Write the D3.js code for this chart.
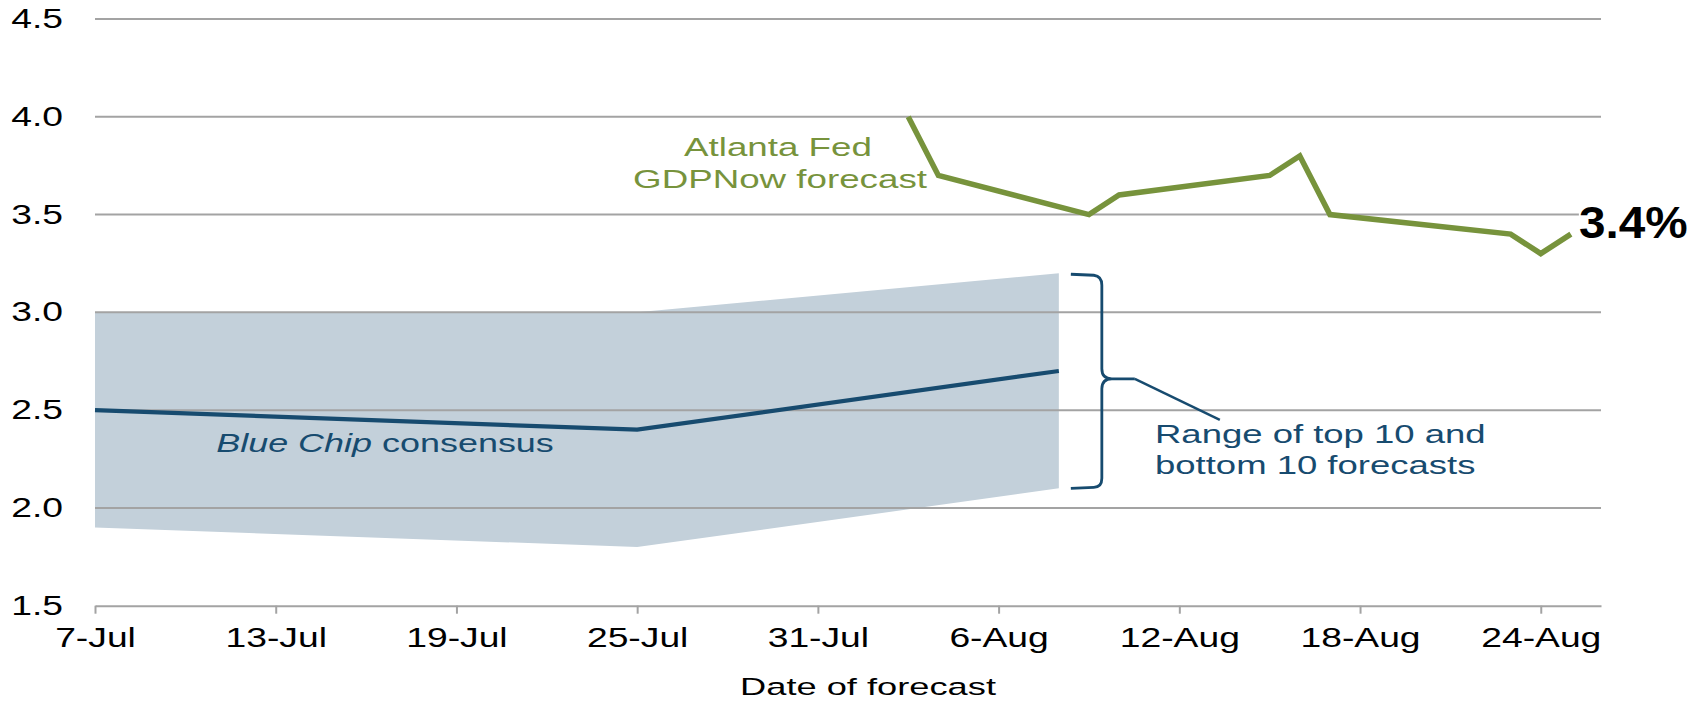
<!DOCTYPE html>
<meta charset="utf-8">
<script src="https://d3js.org/d3.v7.min.js"></script>
<style>
  body { margin: 0; background: #fff; }
  text { font-family: "Liberation Sans", Arial, sans-serif; }
</style>
<div id="chart"></div>
<script>
  // values
  const yTicks = [1.5, 2.0, 2.5, 3.0, 3.5, 4.0, 4.5]
  const xTickDates = ["2017-07-07", "2017-07-13", "2017-07-19", "2017-07-25", "2017-07-31",
                      "2017-08-06", "2017-08-12", "2017-08-18", "2017-08-24"]
  const consensusDates = ["2017-07-07", "2017-07-25", "2017-08-08"]
  const consensus = [2.5, 2.4, 2.7]
  const rangeHigh = [3.0, 3.0, 3.2]
  const rangeLow = [1.9, 1.8, 2.1]
  const gdpNowDates = ["2017-08-03", "2017-08-04", "2017-08-09", "2017-08-10", "2017-08-15",
                       "2017-08-16", "2017-08-17", "2017-08-23", "2017-08-24", "2017-08-25"]
  const gdpNow = [4.0, 3.7, 3.5, 3.6, 3.7, 3.8, 3.5, 3.4, 3.3, 3.4]
  const latestLabel = "3.4%"

  const parse = d3.timeParse("%Y-%m-%d")
  const fmt = d3.timeFormat("%-d-%b")

  const width = 1706, height = 701
  const blue = "#174b6f", green = "#77933c", band = "#c3d0da", grid = "#a3a3a3"

  const svg = d3.select("#chart").append("svg")
    .attr("width", width).attr("height", height)

  const x = d3.scaleTime()
    .domain([parse("2017-07-07"), parse("2017-08-26")])
    .range([95, 1601])
  const y = d3.scaleLinear().domain([1.5, 4.5]).range([605.7, 19])

  const rangeData = consensusDates.map((d, i) => ({date: parse(d), hi: rangeHigh[i], lo: rangeLow[i], mid: consensus[i]}))
  const gdpData = gdpNowDates.map((d, i) => ({date: parse(d), v: gdpNow[i]}))

  // shaded range of top 10 / bottom 10
  svg.append("path")
    .datum(rangeData)
    .attr("fill", band)
    .attr("d", d3.area().x(d => x(d.date)).y0(d => y(d.lo)).y1(d => y(d.hi)))

  // gridlines
  svg.append("g").selectAll("line")
    .data(yTicks.filter(d => d > 1.5))
    .join("line")
      .attr("x1", x.range()[0]).attr("x2", x.range()[1])
      .attr("y1", d => y(d)).attr("y2", d => y(d))
      .attr("stroke", grid).attr("stroke-width", 2)

  // x axis
  const xAxis = svg.append("g")
    .attr("transform", `translate(0,${y(1.5)})`)
    .call(d3.axisBottom(x).tickValues(xTickDates.map(parse)).tickFormat(fmt)
      .tickSize(8).tickSizeOuter(0))
  xAxis.select(".domain").attr("stroke", grid).attr("stroke-width", 2)
  xAxis.selectAll(".tick line").attr("stroke", grid).attr("stroke-width", 2)
  xAxis.selectAll(".tick text")
    .attr("y", 41).attr("dy", 0)
    .attr("font-size", 27).attr("fill", "#000")
    .attr("font-family", "Liberation Sans, Arial, sans-serif")
    .attr("transform", "scale(1.38,1)")

  // y labels
  const yAxis = svg.append("g")
    .attr("transform", "translate(63,0)")
    .call(d3.axisLeft(y).tickValues(yTicks).tickFormat(d3.format(".1f")).tickSize(0).tickPadding(0))
  yAxis.select(".domain").remove()
  yAxis.selectAll(".tick text")
    .attr("font-size", 27).attr("fill", "#000")
    .attr("font-family", "Liberation Sans, Arial, sans-serif")
    .attr("transform", "scale(1.38,1)")

  // consensus line
  svg.append("path")
    .datum(rangeData)
    .attr("fill", "none").attr("stroke", blue).attr("stroke-width", 4.2)
    .attr("d", d3.line().x(d => x(d.date)).y(d => y(d.mid)))

  // GDPNow line
  svg.append("path")
    .datum(gdpData)
    .attr("fill", "none").attr("stroke", green).attr("stroke-width", 5.5)
    .attr("stroke-linejoin", "miter")
    .attr("d", d3.line().x(d => x(d.date)).y(d => y(d.v)))

  // text helper: horizontally stretched labels like the original export
  function label(str, px, py, size, sx, anchor, color, weight) {
    return svg.append("text")
      .attr("transform", `translate(${px},${py}) scale(${sx},1)`)
      .attr("font-size", size)
      .attr("text-anchor", anchor)
      .attr("fill", color)
      .attr("font-weight", weight || "normal")
      .text(str)
  }

  label("Atlanta Fed", 778, 156, 25, 1.47, "middle", green)
  label("GDPNow forecast", 780, 188, 25, 1.47, "middle", green)

  const bc = label("", 385, 452, 25.5, 1.41, "middle", blue)
  bc.append("tspan").attr("font-style", "italic").text("Blue Chip")
  bc.append("tspan").text(" consensus")

  label("Range of top 10 and", 1155, 443, 25, 1.46, "start", blue)
  label("bottom 10 forecasts", 1155, 474, 25, 1.46, "start", blue)

  label("Date of forecast", 868, 695, 24.5, 1.48, "middle", "#000")

  // brace next to the last range
  const last = rangeData[rangeData.length - 1]
  const bx = x(last.date), yt = y(last.hi), yb = y(last.lo), ym = (yt + yb) / 2 - 2
  const xa = bx + 12, xv = bx + 43, xc = bx + 76
  svg.append("path")
    .attr("fill", "none").attr("stroke", blue).attr("stroke-width", 2.8)
    .attr("d", `M${xa},${yt + 1} L${xv - 8},${yt + 2} Q${xv},${yt + 3} ${xv},${yt + 12}
      L${xv},${ym - 10} Q${xv},${ym} ${xv + 10},${ym} L${xc},${ym}
      M${xv + 10},${ym} Q${xv},${ym} ${xv},${ym + 10} L${xv},${yb - 10}
      Q${xv},${yb - 1} ${xv - 8},${yb - 1} L${xa},${yb}`)
  svg.append("line")
    .attr("x1", xc).attr("y1", ym).attr("x2", bx + 161).attr("y2", ym + 41)
    .attr("stroke", blue).attr("stroke-width", 2.4)

  // latest value callout
  const lastG = gdpData[gdpData.length - 1]
  svg.append("rect")
    .attr("x", x(lastG.date) + 8).attr("y", y(lastG.v) - 36)
    .attr("width", 125).attr("height", 50).attr("fill", "#fff")
  label(latestLabel, x(lastG.date) + 8, y(lastG.v) + 4, 45, 1.06, "start", "#000", "bold")
</script>
